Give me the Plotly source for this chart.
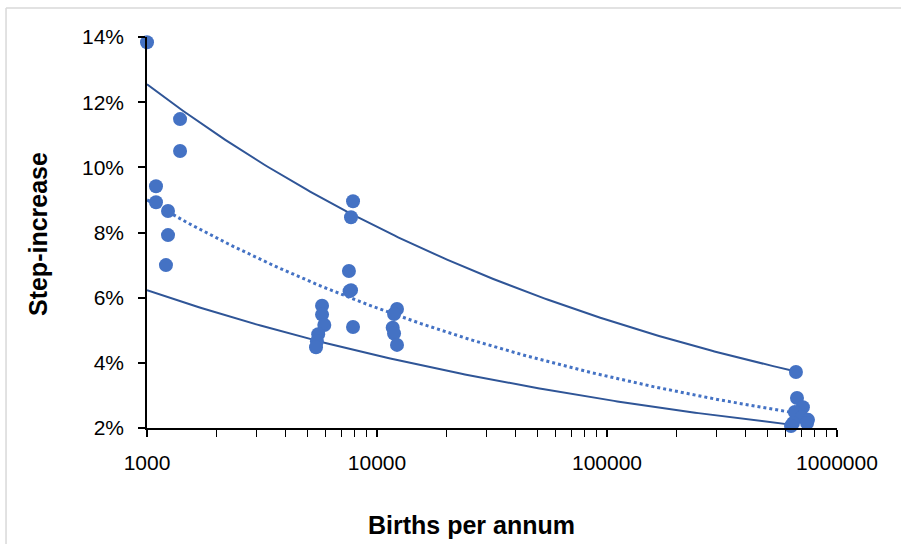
import numpy as np
import plotly.graph_objects as go

# Observed data: births per annum vs step-increase (fraction)
births = [1000, 1392, 1392, 1094, 1094, 1234, 1234, 1209,
          7866, 7709, 7550, 7709, 7600, 7866,
          5768, 5768, 5900, 5550, 5480, 5430,
          12218, 11860, 11700, 11860, 12218,
          663000, 670000, 711000, 656000, 704000, 748000, 644000, 741000, 631000]
step = [0.1384, 0.1148, 0.1050, 0.0942, 0.0893, 0.0866, 0.0792, 0.0700,
        0.0896, 0.0847, 0.0682, 0.0623, 0.0620, 0.0510,
        0.0575, 0.0548, 0.0516, 0.0488, 0.0466, 0.0448,
        0.0565, 0.0550, 0.0508, 0.0490, 0.0455,
        0.0372, 0.0292, 0.0264, 0.0249, 0.0234, 0.0225, 0.0215, 0.0215, 0.0206]

# Power-law curves  y = coef * (x / x0) ** expo
upper_coef, upper_expo, upper_x = 0.1255, -0.1865, [1000, 663000]
lower_coef, lower_expo, lower_x = 0.0623, -0.1686, [1000, 640000]
trend_coef, trend_expo, trend_x = 0.0900, -0.1998, [1000, 660000]
x0 = 1000

x_tickvals = [1000, 10000, 100000, 1000000]
x_ticktext = ["1000", "10000", "100000", "1000000"]

def curve(coef, expo, xr):
    xs = np.geomspace(xr[0], xr[1], 200)
    return xs, coef * (xs / x0) ** expo

fig = go.Figure()
for coef, expo, xr, dash, col, w in [
        (upper_coef, upper_expo, upper_x, "solid", "#2F5597", 2),
        (lower_coef, lower_expo, lower_x, "solid", "#2F5597", 2),
        (trend_coef, trend_expo, trend_x, "dot", "#4472C4", 3)]:
    xs, ys = curve(coef, expo, xr)
    fig.add_trace(go.Scatter(x=xs, y=ys, mode="lines",
                             line=dict(color=col, width=w, dash=dash),
                             hoverinfo="skip", cliponaxis=False))

fig.add_trace(go.Scatter(x=births, y=step, mode="markers",
                         marker=dict(color="#4472C4", size=14),
                         cliponaxis=False))

font = "Liberation Sans, Arial, sans-serif"
fig.update_layout(
    width=901, height=544,
    margin=dict(l=147, r=64, t=37, b=116),
    paper_bgcolor="white", plot_bgcolor="white",
    showlegend=False,
    font=dict(family=font, size=21, color="#000000"),
    xaxis=dict(type="log", range=[2.99995, 6.00005], tickvals=x_tickvals, ticktext=x_ticktext,
               showgrid=False, zeroline=False, showline=True, linecolor="black",
               linewidth=1.5, ticks="outside", ticklen=7, tickcolor="black",
               tickwidth=1.5, ticklabelstandoff=8,
               minor=dict(ticks="outside", ticklen=7, tickcolor="black",
                          tickwidth=1, dtick="D1", showgrid=False),
               tickfont=dict(size=21)),
    yaxis=dict(range=[0.02, 0.14], dtick=0.02, tickformat=".0%",
               showgrid=False, zeroline=False, showline=True, linecolor="black",
               linewidth=1.5, ticks="outside", ticklen=7, tickcolor="black",
               tickwidth=1.5, ticklabelstandoff=10, tickfont=dict(size=21)),
    annotations=[
        dict(text="<b>Births per annum</b>", xref="paper", yref="paper",
             x=0.4696, y=-0.2481, xanchor="center", yanchor="middle",
             showarrow=False, font=dict(size=25)),
        dict(text="<b>Step-increase</b>", xref="paper", yref="paper",
             x=-0.158, y=0.496, xanchor="center", yanchor="middle",
             textangle=-90, showarrow=False, font=dict(size=25)),
    ],
    shapes=[
        dict(type="line", xref="paper", yref="paper", x0=-0.2043, x1=1.2,
             y0=1.0742, y1=1.0742, line=dict(color="#D9D9D9", width=1.5)),
        dict(type="line", xref="paper", yref="paper", x0=-0.2043, x1=-0.2043,
             y0=1.0742, y1=-0.5, line=dict(color="#D9D9D9", width=1.5)),
    ],
)

fig.write_html("out.html")
